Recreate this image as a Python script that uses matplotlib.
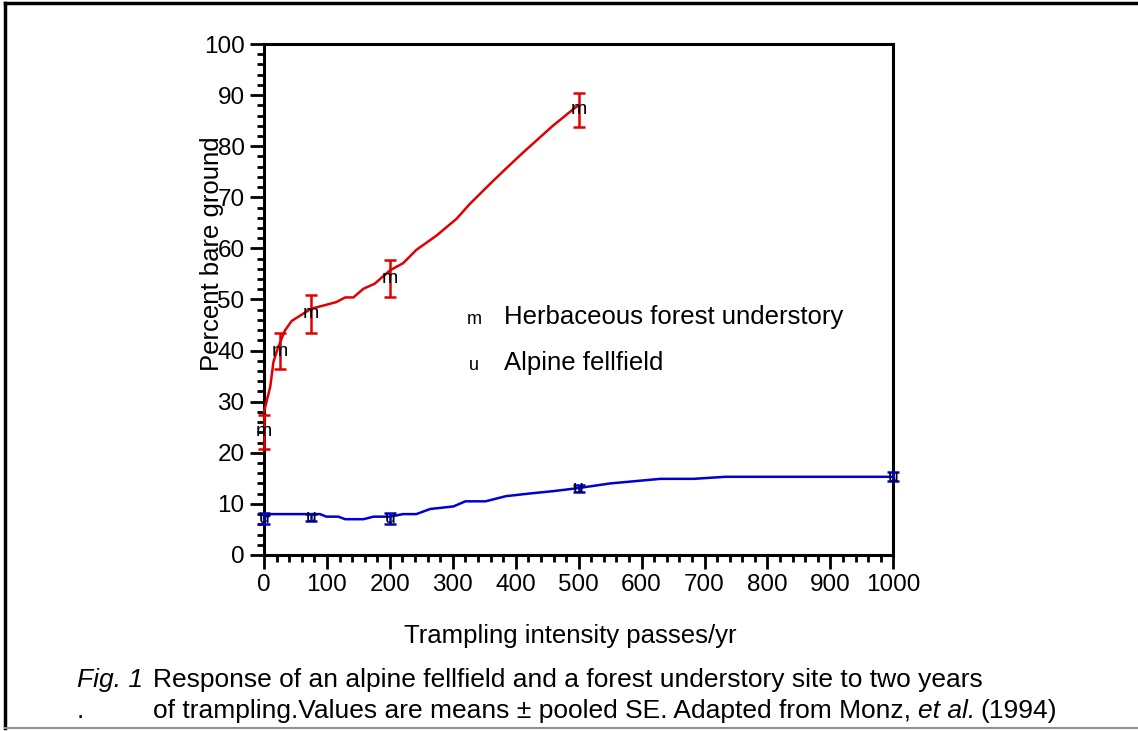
"""
plot.py
Percent bare ground vs trampling intensity (after Monz et al. 1994)
"""
import matplotlib
matplotlib.use("Agg")
import matplotlib.pyplot as plt
from matplotlib.lines import Line2D
from matplotlib.ticker import MultipleLocator

plt.rcParams['font.family'] = ['Liberation Sans', 'DejaVu Sans']

passes = [0, 25, 75, 200, 500]
forest_mean = [24.1, 39.9, 47.2, 54.2, 87.2]
forest_lo = [20.7, 36.3, 43.5, 50.5, 83.8]
forest_hi = [27.4, 43.5, 50.9, 57.8, 90.5]

fell_passes = [0, 75, 200, 500, 1000]
fell_mean = [7.2, 7.4, 7.2, 13.1, 15.2]
fell_lo = [6.1, 6.6, 6.0, 12.4, 14.4]
fell_hi = [8.3, 8.1, 8.2, 13.7, 16.2]

# fitted curves
forest_curve_x = [0, 5, 10, 15, 22, 33, 44, 62, 75, 94, 115, 129, 142, 158, 176,
                  200, 221, 242, 274, 306, 327, 359, 386, 412, 459, 494, 500]
forest_curve_y = [28.0, 30.5, 33.0, 37.8, 40.5, 43.9, 45.8, 47.2, 48.2, 48.8, 49.5,
                  50.4, 50.4, 52.1, 53.1, 55.7, 57.1, 59.7, 62.5, 65.8, 68.7, 72.6,
                  75.8, 78.8, 84.0, 87.5, 88.0]

fell_curve_x = [0, 8, 10, 89, 99, 118, 129, 158, 174, 200, 221, 242, 264, 301, 320,
                352, 384, 420, 460, 500, 550, 630, 683, 733, 1000]
fell_curve_y = [7.6, 7.6, 8.0, 8.0, 7.5, 7.5, 7.0, 7.0, 7.5, 7.5, 8.0, 8.0, 9.0,
                9.5, 10.5, 10.5, 11.5, 12.0, 12.5, 13.1, 14.0, 14.9, 14.9, 15.3, 15.3]

x_ticks = [0, 100, 200, 300, 400, 500, 600, 700, 800, 900, 1000]
y_ticks = [0, 10, 20, 30, 40, 50, 60, 70, 80, 90, 100]

RED = '#e00000'
BLUE = '#0000d0'
W, H = 1138, 731


def fx(px):
    return px / W


def fy(py):
    return 1 - py / H


def draw_series(ax, xs, mean, lo, hi, cx, cy, color, symbol):
    ax.plot(cx, cy, color=color, lw=1.8, clip_on=False, zorder=3)
    err = [[m - l for m, l in zip(mean, lo)], [h - m for m, h in zip(mean, hi)]]
    ax.errorbar(xs, mean, yerr=err, fmt='none', ecolor=color, elinewidth=1.8,
                capsize=4.5, capthick=1.8, clip_on=False, zorder=3)
    for x, y in zip(xs, mean):
        ax.text(x, y, symbol, fontsize=14, ha='center', va='center', zorder=4,
                clip_on=False)


fig = plt.figure(figsize=(11.38, 7.31), dpi=100)
ax = fig.add_axes([0.232, 0.2408, 0.553, 0.699])

draw_series(ax, passes, forest_mean, forest_lo, forest_hi,
            forest_curve_x, forest_curve_y, RED, 'm')
draw_series(ax, fell_passes, fell_mean, fell_lo, fell_hi,
            fell_curve_x, fell_curve_y, BLUE, 'u')

ax.set_xlim(0, 1000)
ax.set_ylim(0, 100)
ax.set_xticks(x_ticks)
ax.set_yticks(y_ticks)
ax.xaxis.set_minor_locator(MultipleLocator(20))
ax.yaxis.set_minor_locator(MultipleLocator(2))
ax.tick_params(which='both', direction='out', width=2, labelsize=17.5,
               top=False, right=False)
ax.tick_params(which='major', length=10, pad=4)
ax.tick_params(which='minor', length=5)
for s in ax.spines.values():
    s.set_linewidth(2.2)

# axis titles
fig.text(fx(212), fy(254), 'Percent bare ground', rotation=90,
         fontsize=18.5, ha='center', va='center')
fig.text(fx(570), fy(636), 'Trampling intensity passes/yr',
         fontsize=18.5, ha='center', va='center')

# legend drawn as text, like the original
fig.text(fx(467), fy(320), 'm', fontsize=13, ha='left', va='center')
fig.text(fx(504), fy(317), 'Herbaceous forest understory',
         fontsize=18.5, ha='left', va='center')
fig.text(fx(469), fy(366), 'u', fontsize=13, ha='left', va='center')
fig.text(fx(504), fy(363), 'Alpine fellfield',
         fontsize=18.5, ha='left', va='center')

# caption
CAP = 19
fig.text(fx(77), fy(680), 'Fig. 1', fontsize=CAP, style='italic',
         ha='left', va='center')
fig.text(fx(153), fy(680),
         'Response of an alpine fellfield and a forest understory site to two years',
         fontsize=CAP, ha='left', va='center')
fig.text(fx(77), fy(711), '.', fontsize=CAP, ha='left', va='center')
line2 = fig.text(fx(153), fy(711),
                 'of trampling.Values are means \u00b1 pooled SE. Adapted from Monz, ',
                 fontsize=CAP, ha='left', va='center')

# frame round the figure
fig.add_artist(Line2D([fx(5), fx(5)], [fy(3), fy(728)],
                      transform=fig.transFigure, color='black', lw=2.5))
fig.add_artist(Line2D([fx(5), 1], [fy(3), fy(3)],
                      transform=fig.transFigure, color='black', lw=2.5))
fig.add_artist(Line2D([fx(5), 1], [fy(728), fy(728)],
                      transform=fig.transFigure, color='#909090', lw=1.5))

# italic "et al." and year after the second caption line
fig.canvas.draw()
r = fig.canvas.get_renderer()
bb = line2.get_window_extent(r)
t1 = fig.text(bb.x1 / fig.bbox.width, fy(711), 'et al.', fontsize=CAP,
              style='italic', ha='left', va='center')
bb1 = t1.get_window_extent(r)
fig.text(bb1.x1 / fig.bbox.width + 0.004, fy(711), '(1994)',
         fontsize=CAP, ha='left', va='center')

fig.savefig('out.png', dpi=100)
